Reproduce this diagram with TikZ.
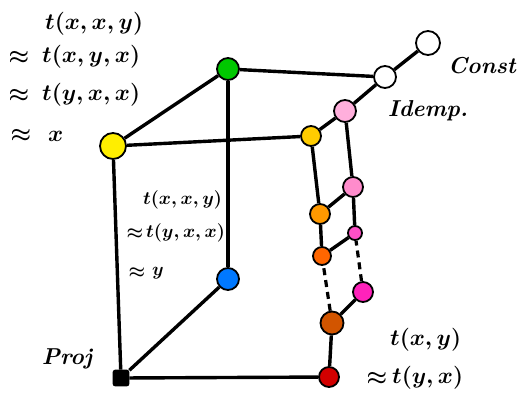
\RequirePackage{fix-cm}
\documentclass[tikz,border=0pt]{standalone}
\begin{document}
\begin{tikzpicture}[x=1pt,y=-1pt,
  v/.style={circle,draw=black,line width=1.8pt,inner sep=0pt,minimum size=#1},
  v/.default=20pt,
  e/.style={line width=3.4pt},
  d/.style={line width=3.2pt,dash pattern=on 7pt off 5pt},
  lab/.style={font=\fontsize{23}{27}\selectfont\boldmath\bfseries,inner sep=0pt},
  labs/.style={font=\fontsize{18.5}{22}\selectfont\boldmath\bfseries,inner sep=0pt}]
\useasboundingbox (0,0) rectangle (524,413);
% vertices
\node[v=26pt,fill={rgb,255:red,255;green,238;blue,0}] (yel) at (113,146) {};
\node[v=22pt,fill={rgb,255:red,0;green,200;blue,0}] (grn) at (228,69) {};
\node[v=22pt,fill={rgb,255:red,0;green,120;blue,255}] (blu) at (228,279) {};
\node[v=15pt,fill=black,rounded corners=2pt,rectangle] (prj) at (121,378) {};
\node[v=20pt,fill={rgb,255:red,210;green,0;blue,0}] (red) at (329,377) {};
\node[v=23pt,fill={rgb,255:red,210;green,85;blue,0}] (brn) at (332,323) {};
\node[v=20pt,fill={rgb,255:red,255;green,34;blue,187}] (mg2) at (363,292) {};
\node[v=18pt,fill={rgb,255:red,255;green,102;blue,0}] (or2) at (322,256) {};
\node[v=14pt,fill={rgb,255:red,255;green,80;blue,200}] (mg1) at (355,233) {};
\node[v=20pt,fill={rgb,255:red,255;green,153;blue,0}] (or1) at (320,214) {};
\node[v=20pt,fill={rgb,255:red,255;green,140;blue,204}] (pk1) at (353,187) {};
\node[v=20pt,fill={rgb,255:red,255;green,204;blue,0}] (gld) at (311,136) {};
\node[v=22pt,fill={rgb,255:red,255;green,175;blue,220}] (pk0) at (345,111) {};
\node[v=22pt,fill=white] (wh1) at (385,77) {};
\node[v=24pt,fill=white] (wh2) at (428,43) {};
% edges
\draw[e] (yel) -- (grn);
\draw[e] (yel) -- (gld);
\draw[e] (yel) -- (prj);
\draw[e] (grn) -- (wh1);
\draw[e] (grn) -- (blu);
\draw[e] (blu) -- (prj);
\draw[e] (prj) -- (red);
\draw[e] (red) -- (brn);
\draw[e] (brn) -- (mg2);
\draw[d] (brn) -- (or2);
\draw[d] (mg2) -- (mg1);
\draw[e] (or2) -- (mg1);
\draw[e] (or2) -- (or1);
\draw[e] (mg1) -- (pk1);
\draw[e] (or1) -- (pk1);
\draw[e] (or1) -- (gld);
\draw[e] (pk1) -- (pk0);
\draw[e] (gld) -- (pk0);
\draw[e] (pk0) -- (wh1);
\draw[e] (wh1) -- (wh2);
% labels: top left
\node[lab,anchor=west] (ta) at (45,24) {$t(x,x,y)$};
\node[lab] (tbq) at (19,58) {$\approx$};
\node[lab,anchor=west] (tb) at (42,57) {$t(x,y,x)$};
\node[lab] (tcq) at (19,96) {$\approx$};
\node[lab,anchor=west] (tc) at (42,95) {$t(y,x,x)$};
\node[lab] (tdq) at (21,136) {$\approx$};
\node[lab,anchor=west] (td) at (48,136) {$x$};
% labels: middle
\node[labs,anchor=west] (ma) at (143,200) {$t(x,x,y)$};
\node[labs] (mbq) at (135,234) {$\approx$};
\node[labs,anchor=west] (mb) at (146,233) {$t(y,x,x)$};
\node[labs] (mcq) at (137,273) {$\approx$};
\node[labs,anchor=west] (mc) at (152,273) {$y$};
% labels: bottom right
\node[lab,anchor=west] (ba) at (390,340) {$t(x,y)$};
\node[lab] (bbq) at (377,379) {$\approx$};
\node[lab,anchor=west] (bb) at (392,378) {$t(y,x)$};
% names
\node[lab] (pl) at (67,359) {\itshape Proj};
\node[lab] (cl) at (482,66) {\itshape Const};
\node[lab] (il) at (428,111) {\itshape Idemp.};
\end{tikzpicture}
\end{document}
